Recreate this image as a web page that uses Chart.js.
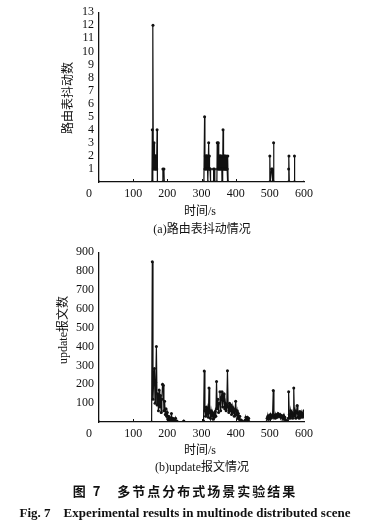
<!DOCTYPE html>
<html>
<head>
<meta charset="utf-8">
<script src="https://cdn.jsdelivr.net/npm/chart.js@4.4.0/dist/chart.umd.min.js"></script>
<style>
  body { margin: 0; background: #fff; width: 375px; height: 523px; position: relative; overflow: hidden;
         font-family: "Liberation Serif", "Noto Sans CJK SC", serif; color: #111; }
  canvas { position: absolute; left: 0; }
  .t { position: absolute; white-space: nowrap; font-size: 12px; line-height: 1; transform: translate(-50%, -50%); }
  .rot { transform: translate(-50%, -50%) rotate(-90deg); }
  .fig1 { font-family: "Noto Sans CJK SC", sans-serif; font-weight: bold; font-size: 13px; letter-spacing: 2px; }
  .fig2 { font-weight: bold; font-size: 13px; }
</style>
</head>
<body>
<canvas id="chartJitter" width="375" height="240" style="top:0"></canvas>
<canvas id="chartUpdate" width="375" height="240" style="top:240px"></canvas>

<div class="t" style="left:89px;top:193px">0</div>
<div class="t rot" style="left:68px;top:98px">路由表抖动数</div>
<div class="t" style="left:200px;top:211px">时间/s</div>
<div class="t" style="left:202px;top:229px">(a)路由表抖动情况</div>

<div class="t" style="left:89px;top:433px">0</div>
<div class="t rot" style="left:63px;top:330px">update报文数</div>
<div class="t" style="left:200px;top:450px">时间/s</div>
<div class="t" style="left:202px;top:467px">(b)update报文情况</div>

<div class="t fig1" style="left:185px;top:490px">图 7&nbsp;&nbsp;&nbsp;多节点分布式场景实验结果</div>
<div class="t fig2" style="left:185px;top:512px">Fig. 7&nbsp;&nbsp;&nbsp;&nbsp;Experimental results in multinode distributed scene</div>

<script>
// (a) routing table jitter count over time
const jitterTime = [0, 155, 156, 157, 158, 159, 160, 161, 162, 163, 164, 165, 166, 167, 168, 169, 170, 171,
  186, 187, 190, 191,
  307, 309, 310, 311, 312, 313, 314, 315, 316, 317, 318, 319, 321, 322, 323, 324, 325, 326, 327,
  334, 335, 336, 338, 339, 345, 346, 347, 349, 350, 351, 352, 353, 354, 355, 356, 357, 358, 359, 360,
  362, 363, 364, 365, 366, 367, 368, 369, 370, 371, 372, 373, 374, 375, 376, 377, 378,
  499, 500, 501, 503, 505, 507, 508, 510, 511, 512, 554, 555, 556, 557, 571, 572, 573, 600];
const jitterCount = [0, 0, 4, 0, 12, 1, 2, 3, 1, 2, 2, 1, 2, 1, 2, 1, 4, 0,
  0, 1, 1, 0,
  0, 5, 1, 2, 1, 2, 2, 1, 2, 2, 1, 0, 3, 1, 2, 1, 1, 1, 0,
  0, 1, 0, 1, 0, 0, 3, 1, 3, 1, 2, 1, 2, 1, 2, 2, 1, 1, 2, 0,
  1, 4, 1, 2, 1, 2, 1, 2, 1, 1, 2, 1, 1, 1, 0, 2, 0,
  0, 2, 0, 0, 1, 1, 0, 0, 3, 0, 0, 1, 2, 0, 0, 2, 0, 0];

// (b) update message count over time
const updateTime = [0, 154, 156, 158, 160, 162, 164, 166, 168, 170, 172, 174, 176, 178, 180, 182, 184, 186, 188,
  190, 192, 194, 196, 198, 200, 202, 204, 206, 208, 210, 212, 214, 216, 218, 220, 222, 224, 226, 228, 230,
  246, 248, 250,
  304, 306, 308, 310, 312, 314, 316, 318, 320, 322, 324, 326, 328, 330, 332, 334, 336, 338, 340, 342, 344,
  346, 348, 350, 352, 354, 356, 358, 360, 362, 364, 366, 368, 370, 372, 374, 376, 378, 380, 382, 384, 386,
  388, 390, 392, 394, 396, 398, 400, 402, 404, 406, 408, 410, 412, 414, 416, 418, 420, 422, 426, 428, 430,
  432, 434, 436, 438, 440,
  490, 492, 494, 496, 498, 500, 502, 504, 506, 508, 510, 512, 514, 516, 518, 520, 522, 524, 526, 528, 530,
  532, 534, 536, 538, 540, 542, 544, 546, 548, 550, 552, 554, 555, 557, 559, 561, 563, 565, 567, 569, 570,
  572, 574, 576, 578, 580, 582, 584, 586, 588, 590, 592, 594, 596, 598, 600];
const updateCount = [0, 0, 850, 120, 220, 284, 100, 210, 400, 90, 150, 60, 170, 80, 140, 50, 120, 200, 195,
  60, 110, 40, 70, 30, 50, 15, 30, 8, 20, 5, 45, 10, 20, 0, 15, 5, 20, 0, 5, 0,
  0, 5, 0,
  0, 5, 270, 60, 30, 80, 40, 70, 25, 180, 50, 20, 60, 30, 50, 15, 45, 25, 55, 30, 215,
  70, 120, 50, 100, 160, 60, 130, 160, 80, 120, 150, 70, 100, 60, 90, 272, 80, 50, 100, 60, 90,
  40, 80, 50, 70, 30, 60, 110, 40, 60, 20, 45, 15, 30, 5, 10, 0, 5, 0, 0, 10, 25,
  15, 25, 10, 20, 0,
  0, 20, 30, 15, 35, 25, 40, 20, 30, 35, 167, 25, 35, 20, 40, 30, 25, 45, 35, 30, 40,
  25, 35, 30, 20, 35, 15, 25, 10, 5, 0, 5, 20, 160, 40, 20, 60, 30, 50, 20, 40, 180,
  30, 60, 20, 50, 88, 25, 45, 20, 55, 30, 50, 25, 45, 30, 60];

const timeTicks = [100, 200, 300, 400, 500];

Chart.defaults.font.family = '"Liberation Serif", "Times New Roman", serif';
Chart.defaults.font.size = 12;
Chart.defaults.color = '#111';

// small tick marks pointing into the plot
const innerTicks = {
  id: 'innerTicks',
  afterDraw(chart) {
    const { ctx, chartArea } = chart;
    const x = chart.scales.x;
    ctx.save();
    ctx.strokeStyle = '#111';
    ctx.lineWidth = 1;
    timeTicks.forEach(v => {
      const px = Math.round(x.getPixelForValue(v)) + 0.5;
      ctx.beginPath();
      ctx.moveTo(px, chartArea.bottom);
      ctx.lineTo(px, chartArea.bottom - 3);
      ctx.stroke();
    });
    ctx.restore();
  }
};

function toPoints(times, values) {
  return times.map((t, i) => ({ x: t, y: values[i] }));
}

function drawChart(canvasId, points, yMax, yStep, padTop) {
  const ctx = document.getElementById(canvasId).getContext('2d');
  return new Chart(ctx, {
    type: 'line',
    data: {
      datasets: [{
        data: points,
        borderColor: '#111',
        backgroundColor: '#111',
        borderWidth: 1.2,
        pointRadius: 1.5,
        pointHoverRadius: 1.5,
        pointBorderWidth: 0,
        tension: 0
      }]
    },
    options: {
      responsive: false,
      animation: false,
      devicePixelRatio: 1,
      layout: { padding: { left: 0, right: 71, top: padTop, bottom: 38 } },
      plugins: { legend: { display: false }, tooltip: { enabled: false } },
      scales: {
        x: {
          type: 'linear',
          min: 0,
          max: 600,
          afterFit: s => { s.height = 20; },
          grid: { display: false, drawTicks: false },
          border: { display: true, color: '#111', width: 1.3 },
          ticks: {
            stepSize: 100,
            padding: 5,
            maxRotation: 0,
            callback: v => v === 0 ? '' : v
          }
        },
        y: {
          min: 0,
          max: yMax,
          afterFit: s => { s.width = 99; },
          grid: { display: false, drawTicks: false },
          border: { display: true, color: '#111', width: 1.3 },
          ticks: {
            stepSize: yStep,
            autoSkip: false,
            padding: 5,
            callback: v => v === 0 ? '' : v
          }
        }
      }
    },
    plugins: [innerTicks]
  });
}

drawChart('chartJitter', toPoints(jitterTime, jitterCount), 13, 1, 12);
drawChart('chartUpdate', toPoints(updateTime, updateCount), 900, 100, 7);
</script>
</body>
</html>
